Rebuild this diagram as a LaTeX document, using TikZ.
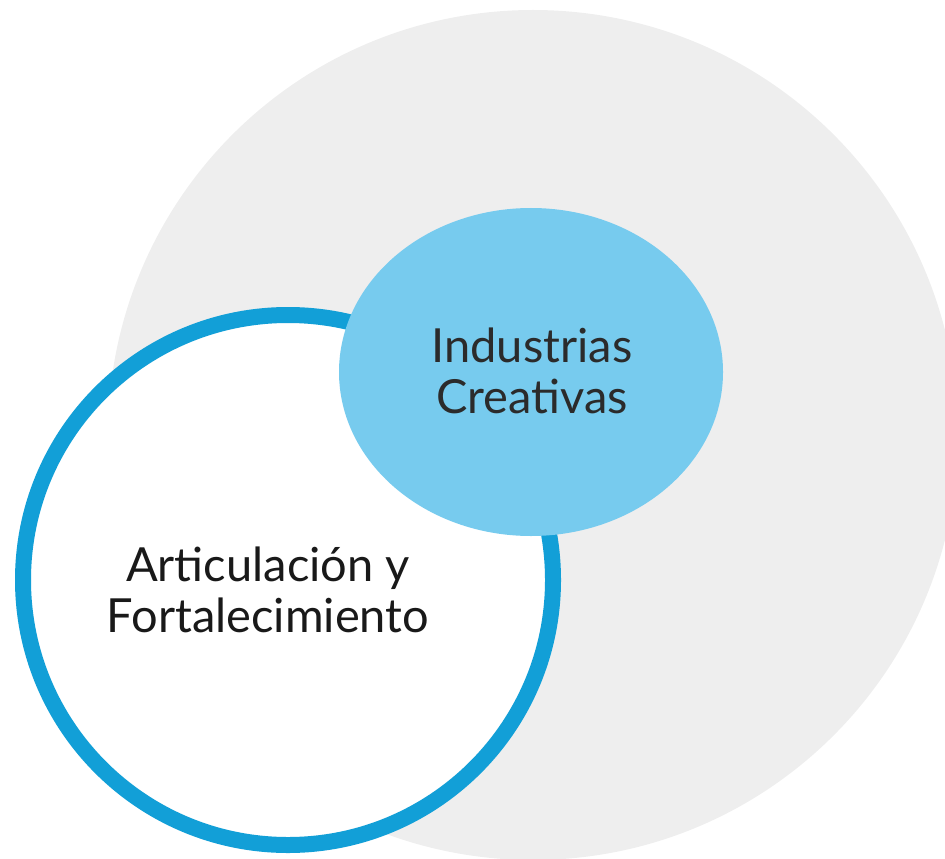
\documentclass[tikz,border=0pt]{standalone}
\usepackage{fontspec}
\setmainfont{Lato}
\definecolor{fondo}{HTML}{EEEEEE}
\definecolor{celeste}{HTML}{77CBEE}
\definecolor{azul}{HTML}{129FD7}
\definecolor{texto}{HTML}{2B2B2B}
\begin{document}
\begin{tikzpicture}[x=0.5pt,y=0.5pt,
		etiqueta/.style = {align=center, text=texto, font=\fontsize{23.5}{25.5}\selectfont}]
	\useasboundingbox (0,0) rectangle (945,858);
	\clip (0,0) rectangle (945,858);
	% circulo de fondo
	\fill[fondo] (533,423) circle (425);
	% anillo azul
	\draw[azul, line width=8pt, fill=white] (288,278) circle (265);
	% elipse celeste
	\fill[celeste] (531,486) ellipse (192 and 164);
	\node[etiqueta] (ic) at (532,487) {Industrias\\Creativas};
	\node[etiqueta, text=black!90] (af) at (268,268) {Articulación y\\Fortalecimiento};
\end{tikzpicture}
\end{document}
